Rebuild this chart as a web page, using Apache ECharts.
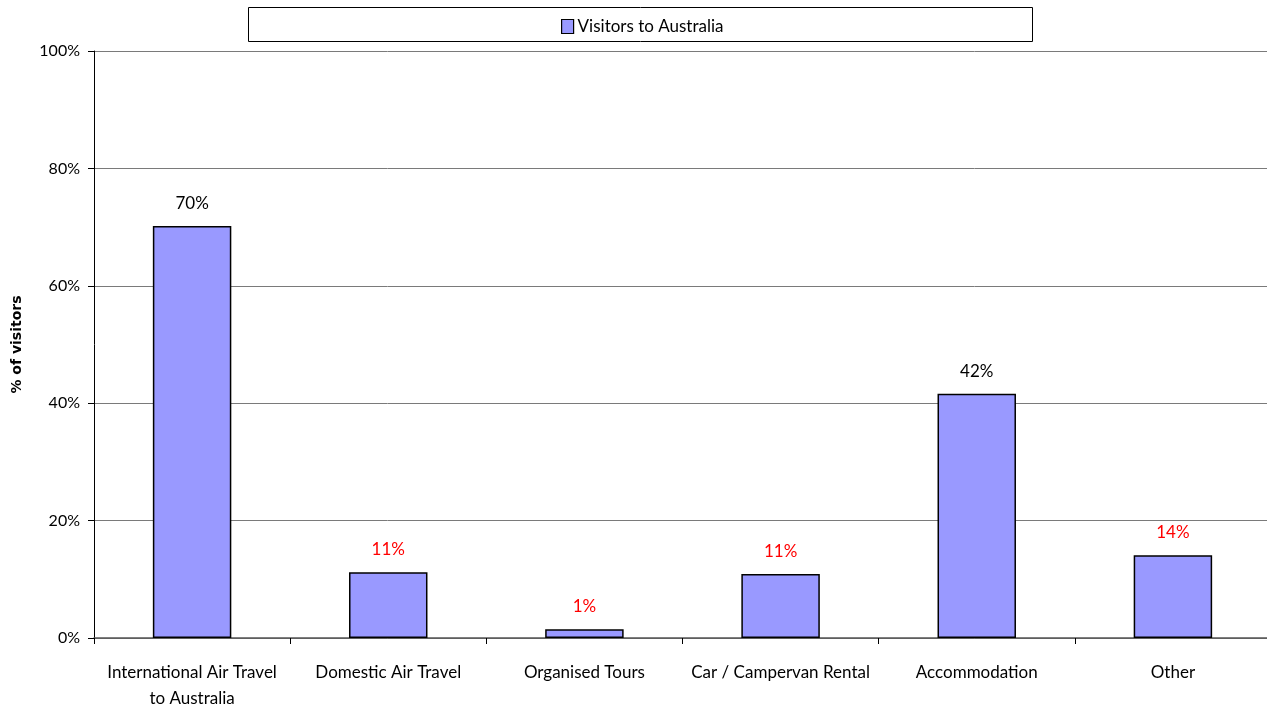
<!DOCTYPE html>
<html>
<head>
<meta charset="utf-8">
<script src="https://cdn.jsdelivr.net/npm/echarts@6/dist/echarts.min.js"></script>
<style>html,body{margin:0;padding:0;background:#fff}#c{width:1267px;height:705px}</style>
</head>
<body>
<div id="c"></div>
<script>
const categories = ['International Air Travel\nto Australia', 'Domestic Air Travel', 'Organised Tours', 'Car / Campervan Rental', 'Accommodation', 'Other'];
const values = [70.2, 11.2, 1.5, 10.9, 41.6, 14.1];
const labelTexts = ['70%', '11%', '1%', '11%', '42%', '14%'];
const labelRed = [false, true, true, true, false, true];
const yTicks = [0, 20, 40, 60, 80, 100];
const seriesName = 'Visitors to Australia';

const FONT = 'Lato, "Open Sans", sans-serif';
const chart = echarts.init(document.getElementById('c'), null, {renderer: 'canvas'});
chart.setOption({
  animation: false,
  backgroundColor: '#fff',
  graphic: [{
    type: 'rect', left: 248, top: 7, z: -1,
    shape: {width: 784, height: 34},
    style: {fill: '#fff', stroke: '#000', lineWidth: 1}
  }],
  legend: {
    data: [seriesName],
    left: 556, top: 13,
    itemWidth: 12, itemHeight: 14, itemGap: 10,
    icon: 'rect',
    textStyle: {fontFamily: FONT, fontSize: 17, color: '#000', padding: [0,0,0,-1]},
    itemStyle: {borderColor: '#000', borderWidth: 1.2}
  },
  grid: {left: 94, right: -4, top: 51, bottom: 67, containLabel: false, outerBoundsMode: 'none'},
  xAxis: {
    type: 'category',
    data: categories,
    axisLine: {show: true, lineStyle: {color: '#555', width: 1.5}},
    axisTick: {show: true, interval: 0, length: 6, lineStyle: {color: '#000'}},
    axisLabel: {interval: 0, fontFamily: FONT, fontSize: 17, color: '#000', margin: 22, lineHeight: 26},
    splitLine: {show: false}
  },
  yAxis: {
    type: 'value',
    min: yTicks[0], max: yTicks[yTicks.length - 1], interval: 20,
    name: '% of visitors',
    nameLocation: 'middle',
    nameGap: 70,
    nameRotate: 90,
    nameTextStyle: {fontFamily: '"DejaVu Sans", Verdana, sans-serif', fontWeight: 'bold', fontSize: 14, color: '#000'},
    axisLine: {show: true, lineStyle: {color: '#000', width: 1}},
    axisTick: {show: true, inside: false, length: 6, lineStyle: {color: '#000'}},
    axisLabel: {fontFamily: FONT, fontSize: 16, color: '#000', margin: 14, formatter: v => v + '%'},
    splitLine: {show: true, lineStyle: {color: '#7a7a7a', width: 1}}
  },
  series: [{
    name: seriesName,
    type: 'bar',
    barWidth: '40%',
    data: values.map((v, i) => ({
      value: v,
      label: {color: labelRed[i] ? '#ff0000' : '#000'}
    })),
    itemStyle: {color: '#9999ff', borderColor: '#000', borderWidth: 1.5},
    label: {
      show: true, position: 'top', distance: 14,
      fontFamily: FONT, fontSize: 17,
      formatter: p => labelTexts[p.dataIndex]
    }
  }]
});
</script>
</body>
</html>
